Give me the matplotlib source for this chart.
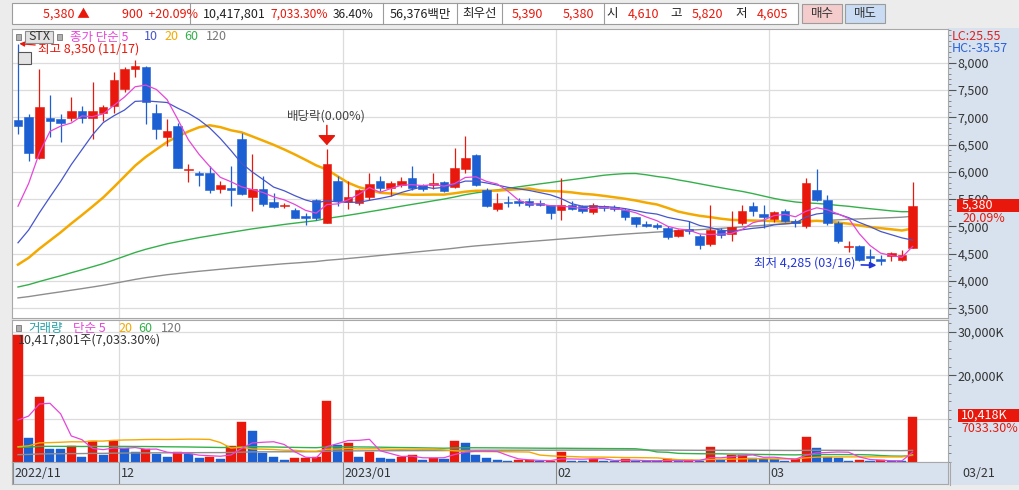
import matplotlib

matplotlib.use("Agg")
import matplotlib.pyplot as plt
import numpy as np
import pandas as pd
from matplotlib.lines import Line2D
from matplotlib.patches import Rectangle
from matplotlib.ticker import MultipleLocator

plt.rcParams["font.family"] = ["Noto Sans CJK KR", "DejaVu Sans"]

# ---- data (prices in KRW, volume in thousand shares) ----
holidays = ["2022-12-30", "2023-01-23", "2023-01-24", "2023-03-01"]
dates = pd.bdate_range("2022-11-17", "2023-03-21", freq="C", holidays=holidays)

opens = [6940, 7000, 6260, 6980, 6970, 6990, 7115, 6990, 7085, 7200,
         7510, 7880, 7920, 7070, 6640, 6830, 6030, 5985, 5980, 5690,
         5705, 6595, 5535, 5690, 5440, 5370, 5305, 5195, 5480, 5065,
         5835, 5440, 5430, 5535, 5835, 5705, 5750, 5890, 5750, 5750,
         5810, 5720, 6045, 6300, 5660, 5320, 5440, 5460, 5470, 5420,
         5395, 5295, 5400, 5380, 5270, 5380, 5360, 5295, 5165, 5045,
         5030, 4970, 4825, 4950, 4820, 4680, 4940, 4865, 5065, 5370,
         5225, 5140, 5275, 5095, 5015, 5665, 5490, 5065, 4625, 4645,
         4450, 4400, 4450, 4380, 4610]
highs = [8350, 7050, 7880, 7410, 7050, 7370, 7200, 7640, 7230, 7820,
         7920, 8050, 7930, 7240, 6960, 6900, 6135, 6010, 6100, 5830,
         6100, 6720, 6330, 5920, 5615, 5430, 5340, 5250, 5510, 6410,
         5920, 5840, 5680, 5980, 5920, 5830, 5900, 6100, 5780, 5980,
         5830, 6440, 6655, 6320, 5705, 5615, 5560, 5520, 5520, 5480,
         5400, 5890, 5470, 5400, 5430, 5400, 5390, 5340, 5180, 5090,
         5060, 5000, 4960, 5105, 4865, 5385, 4965, 5290, 5400, 5440,
         5400, 5290, 5320, 5130, 5890, 6050, 5580, 5090, 4725, 4660,
         4585, 4480, 4540, 4560, 5820]
lows = [6690, 6190, 6230, 6640, 6540, 6930, 6900, 6610, 6930, 7070,
        7470, 7730, 6870, 6600, 6470, 6075, 5815, 5735, 5615, 5615,
        5370, 5580, 5275, 5370, 5340, 5340, 5150, 5030, 5120, 5060,
        5370, 5310, 5400, 5490, 5650, 5550, 5730, 5675, 5650, 5690,
        5630, 5705, 5980, 5740, 5355, 5275, 5360, 5370, 5360, 5380,
        5140, 5125, 5300, 5250, 5230, 5280, 5280, 5120, 4980, 4980,
        4960, 4770, 4810, 4865, 4590, 4635, 4790, 4735, 5030, 5190,
        4970, 5080, 5080, 4990, 4970, 5460, 5030, 4700, 4540, 4370,
        4330, 4285, 4360, 4360, 4605]
closes = [6830, 6340, 7180, 6930, 6900, 7115, 6990, 7120, 7180, 7680,
          7880, 7930, 7270, 6780, 6750, 6075, 6055, 5940, 5675, 5750,
          5670, 5585, 5690, 5410, 5350, 5400, 5155, 5155, 5155, 6135,
          5460, 5530, 5660, 5770, 5705, 5800, 5840, 5705, 5690, 5800,
          5655, 6075, 6260, 5750, 5380, 5420, 5420, 5430, 5400, 5400,
          5240, 5400, 5320, 5280, 5400, 5330, 5315, 5170, 5035, 5010,
          4990, 4805, 4930, 4920, 4665, 4940, 4840, 4990, 5290, 5275,
          5180, 5255, 5105, 5065, 5790, 5490, 5065, 4735, 4645, 4390,
          4420, 4360, 4520, 4480, 5380]
volumes = [29300, 5500, 15000, 3000, 2900, 3700, 1200, 4900, 1600, 4800,
           3200, 2200, 2900, 1850, 1200, 2200, 1800, 850, 1200, 600,
           3700, 9300, 7200, 2000, 1200, 500, 850, 1000, 1200, 14200,
           3900, 4500, 1200, 2400, 1000, 600, 1200, 1600, 500, 850,
           800, 4900, 4300, 1600, 850, 500, 300, 350, 500, 200,
           300, 2200, 300, 250, 700, 300, 200, 600, 300, 200,
           180, 600, 300, 350, 300, 3400, 500, 1600, 1650, 1000,
           700, 600, 300, 600, 5700, 3300, 1100, 850, 300, 350,
           300, 350, 200, 148, 10418]

# sessions before the window (needed for the short moving averages)
prior_close = [3850, 3880, 3920, 3900, 3870, 3910, 3940, 3900, 3880, 3950,
               4000, 4050, 4020, 4060, 4020, 4255, 4400, 4940, 6425]
prior_volume = [1400, 1500, 1600, 1300, 1450, 1550, 1400, 1500, 1350, 1600,
                1450, 1500, 1400, 1550, 1550, 900, 1100, 2200, 15000]

# long moving averages
ma60 = [3890, 3933, 3990, 4043, 4095, 4151, 4205, 4261, 4318, 4384,
        4453, 4522, 4581, 4631, 4681, 4720, 4758, 4795, 4827, 4860,
        4892, 4923, 4955, 4982, 5009, 5036, 5060, 5083, 5106, 5146,
        5174, 5204, 5235, 5269, 5301, 5335, 5370, 5403, 5435, 5469,
        5501, 5539, 5581, 5614, 5641, 5669, 5697, 5725, 5752, 5779,
        5804, 5831, 5857, 5883, 5910, 5937, 5954, 5967, 5969, 5945,
        5914, 5889, 5851, 5818, 5781, 5744, 5708, 5673, 5641, 5601,
        5556, 5512, 5476, 5447, 5431, 5421, 5405, 5385, 5368, 5345,
        5324, 5304, 5284, 5269, 5270]
ma120 = [3690, 3714, 3744, 3773, 3801, 3831, 3860, 3890, 3921, 3956,
         3992, 4029, 4061, 4088, 4115, 4136, 4158, 4178, 4196, 4215,
         4233, 4250, 4268, 4284, 4300, 4316, 4329, 4343, 4357, 4379,
         4395, 4412, 4430, 4449, 4468, 4487, 4506, 4524, 4543, 4562,
         4580, 4601, 4624, 4643, 4659, 4675, 4691, 4707, 4723, 4738,
         4753, 4769, 4784, 4799, 4815, 4830, 4845, 4859, 4872, 4884,
         4897, 4908, 4920, 4932, 4941, 4953, 4964, 4977, 4992, 5006,
         5020, 5035, 5048, 5061, 5080, 5097, 5110, 5120, 5130, 5137,
         5145, 5152, 5160, 5169, 5184]
vma60 = [3390, 3426, 3621, 3616, 3609, 3615, 3580, 3606, 3577, 3602,
         3600, 3581, 3574, 3549, 3514, 3495, 3470, 3429, 3394, 3349,
         3355, 3455, 3520, 3498, 3463, 3416, 3375, 3336, 3301, 3482,
         3492, 3512, 3477, 3462, 3423, 3378, 3343, 3314, 3267, 3226,
         3184, 3241, 3288, 3290, 3280, 3264, 3244, 3225, 3209, 3188,
         3168, 3180, 3160, 3140, 3127, 3107, 3095, 3087, 3055, 2808,
         2323, 2241, 1996, 1952, 1909, 1904, 1892, 1837, 1838, 1775,
         1733, 1706, 1663, 1642, 1717, 1735, 1723, 1723, 1708, 1704,
         1647, 1498, 1381, 1350, 1504]
vma120 = [1700, 1744, 1867, 1890, 1913, 1942, 1950, 1989, 2001, 2039,
          2064, 2081, 2104, 2118, 2126, 2143, 2156, 2161, 2169, 2172,
          2201, 2277, 2335, 2350, 2358, 2361, 2366, 2373, 2381, 2498,
          2529, 2565, 2573, 2591, 2598, 2601, 2609, 2621, 2624, 2629,
          2634, 2673, 2707, 2719, 2724, 2727, 2728, 2729, 2732, 2732,
          2733, 2750, 2751, 2751, 2755, 2756, 2756, 2759, 2760, 2760,
          2747, 2738, 2726, 2715, 2703, 2717, 2707, 2706, 2706, 2700,
          2692, 2683, 2671, 2662, 2695, 2708, 2703, 2696, 2684, 2673,
          2661, 2650, 2637, 2624, 2697]

price_ticks = [3500, 4000, 4500, 5000, 5500, 6000, 6500, 7000, 7500, 8000]
vol_ticks = [10000, 20000, 30000]
dividend_idx = 29

RED = "#e8180c"
BLUE = "#1c5fd2"
C_MA5 = "#e646d8"
C_MA10 = "#4656cc"
C_MA20 = "#f4a900"
C_MA60 = "#34b04a"
C_MA120 = "#8e8e8e"
PANEL = "#d8e2ee"
GRID = "#dcdcdc"

W, H = 1019, 490


def box(x0, y0, x1, y1):
    return [x0 / W, 1 - y1 / H, (x1 - x0) / W, (y1 - y0) / H]


def ftext(x, y, s, color="#333333", size=9, **kw):
    kw.setdefault("ha", "left")
    return fig.text(x / W, 1 - y / H, s, color=color, fontsize=size, va="center",
                    zorder=10, **kw)


def frect(x0, y0, x1, y1, fc, ec="none", z=2, lw=0.8):
    fig.add_artist(Rectangle((x0 / W, 1 - y1 / H), (x1 - x0) / W, (y1 - y0) / H,
                             transform=fig.transFigure, facecolor=fc, edgecolor=ec,
                             linewidth=lw, zorder=z))


def fvline(x, y0, y1, color="#9c9c9c", lw=0.8):
    fig.add_artist(Line2D([x / W, x / W], [1 - y0 / H, 1 - y1 / H],
                          transform=fig.transFigure, color=color, lw=lw))


n = len(closes)
x = np.arange(n)
o = np.array(opens, float)
c = np.array(closes, float)
hi = np.array(highs, float)
lo = np.array(lows, float)
v = np.array(volumes, float)

cs = pd.Series(prior_close + closes, dtype=float)
vs = pd.Series(prior_volume + volumes, dtype=float)
k = len(prior_close)
ma5 = cs.rolling(5).mean().to_numpy()[k:]
ma10 = cs.rolling(10).mean().to_numpy()[k:]
ma20 = cs.rolling(20).mean().to_numpy()[k:]
vma5 = vs.rolling(5).mean().to_numpy()[k:]
vma20 = vs.rolling(20).mean().to_numpy()[k:]

candle_col = [RED if cc >= oo else BLUE for oo, cc in zip(o, c)]
prev_v = np.concatenate([[prior_volume[-1]], v[:-1]])
vol_col = [RED if a > b else BLUE for a, b in zip(v, prev_v)]

# month boundaries
bounds = [-0.5] + [i - 0.5 for i in range(1, n) if dates[i].month != dates[i - 1].month]
blabels = []
for b in bounds:
    d = dates[int(b + 0.5)]
    blabels.append(f"{d.year}/{d.month:02d}" if (b < 0 or d.month == 1) else f"{d.month:02d}")

fig = plt.figure(figsize=(W / 100, H / 100), dpi=100, facecolor="#ececec")

# right-hand scale panel and date strip background
frect(948, 28, 1019, 485, PANEL, z=-1)

xmin, xmax = (12 - 18) / 10.65, (948 - 18) / 10.65

# ---- price panel ----
ax = fig.add_axes(box(12, 29, 948, 318))
ax.set_xlim(xmin, xmax)
ax.set_ylim(3322, 8616)
for t in price_ticks:
    ax.axhline(t, color=GRID, lw=0.9, zorder=0)
for b in bounds[1:]:
    ax.axvline(b, color=GRID, lw=0.9, zorder=0)

ax.vlines(x, lo, hi, colors=candle_col, lw=0.9, zorder=3)
body = np.maximum(np.abs(c - o), 18)
ax.bar(x, body, bottom=np.minimum(o, c), width=0.8, color=candle_col,
       edgecolor=candle_col, lw=0.4, zorder=4)

ax.plot(x, ma120, color=C_MA120, lw=1.0, zorder=2)
ax.plot(x, ma60, color=C_MA60, lw=1.0, zorder=2)
ax.plot(x, ma20, color=C_MA20, lw=1.8, zorder=2)
ax.plot(x, ma10, color=C_MA10, lw=0.9, zorder=5)
ax.plot(x, ma5, color=C_MA5, lw=0.9, zorder=5)

ax.yaxis.tick_right()
ax.set_yticks(price_ticks)
ax.set_yticklabels([f"{t:,}" for t in price_ticks])
ax.yaxis.set_minor_locator(MultipleLocator(100))
ax.tick_params(axis="y", which="major", direction="out", length=6, pad=1,
               labelsize=9, colors="#555555", labelcolor="#333333")
ax.tick_params(axis="y", which="minor", direction="out", length=2, colors="#777777")
ax.tick_params(axis="x", bottom=False, labelbottom=False)
for s in ax.spines.values():
    s.set_color("#a8a8a8")

# annotations
hi_i = int(np.argmax(hi))
ax.annotate("최고 8,350 (11/17)", xy=(hi_i, hi[hi_i]), xytext=(20, -6),
            textcoords="offset pixels", ha="left", va="center", color=RED, fontsize=9,
            arrowprops=dict(arrowstyle="-|>", color=RED, lw=0.9, shrinkA=0, shrinkB=1,
                            mutation_scale=7), zorder=8)
lo_i = int(np.argmin(lo))
ax.annotate("최저 4,285 (03/16)", xy=(lo_i, lo[lo_i]), xytext=(-25, 2),
            textcoords="offset pixels", ha="right", va="center", color="#2236d8", fontsize=9,
            arrowprops=dict(arrowstyle="-|>", color="#2236d8", lw=1.2, shrinkA=2, shrinkB=3,
                            mutation_scale=9), zorder=8)
ax.annotate("배당락(0.00%)", xy=(dividend_idx, hi[dividend_idx]), xytext=(0, 33),
            textcoords="offset pixels", ha="center", va="center", color="#444444", fontsize=9)
ax.annotate("", xy=(dividend_idx, hi[dividend_idx]), xytext=(0, 24),
            textcoords="offset pixels",
            arrowprops=dict(arrowstyle="-|>,head_width=0.45,head_length=0.5", color=RED,
                            lw=1.1, shrinkA=0, shrinkB=3, mutation_scale=12), zorder=8)

# ---- volume panel ----
axv = fig.add_axes(box(12, 320, 948, 462), sharex=ax)
axv.set_ylim(0, 32800)
for t in vol_ticks:
    axv.axhline(t, color=GRID, lw=0.9, zorder=0)
for b in bounds[1:]:
    axv.axvline(b, color=GRID, lw=0.9, zorder=0)
axv.bar(x, v, width=0.85, color=vol_col, edgecolor=vol_col, lw=0.3, zorder=3)
axv.plot(x, vma120, color=C_MA120, lw=1.0, zorder=4)
axv.plot(x, vma60, color=C_MA60, lw=1.0, zorder=4)
axv.plot(x, vma20, color=C_MA20, lw=1.0, zorder=4)
axv.plot(x, vma5, color=C_MA5, lw=0.9, zorder=4)
axv.yaxis.tick_right()
axv.set_yticks([20000, 30000])
axv.set_yticklabels(["20,000K", "30,000K"])
axv.yaxis.set_minor_locator(MultipleLocator(2000))
axv.tick_params(axis="y", which="major", direction="out", length=6, pad=1,
                labelsize=9, colors="#555555", labelcolor="#333333")
axv.tick_params(axis="y", which="minor", direction="out", length=2, colors="#777777")
axv.tick_params(axis="x", bottom=False, labelbottom=False)
for s in axv.spines.values():
    s.set_color("#a8a8a8")

# ---- date strip ----
axd = fig.add_axes(box(12, 462, 948, 484), sharex=ax, facecolor=PANEL)
axd.set_ylim(0, 1)
axd.set_yticks([])
axd.tick_params(axis="x", bottom=False, labelbottom=False)
for s in axd.spines.values():
    s.set_color("#a8a8a8")
for b, lab in zip(bounds, blabels):
    axd.axvline(b, color="#8a8a8a", lw=0.8)
    axd.annotate(lab, xy=(b, 0.5), xytext=(2, 0), textcoords="offset pixels",
                 ha="left", va="center", fontsize=9, color="#333333")
fvline(950, 462, 485, "#a8a8a8")
ftext(962, 473, dates[-1].strftime("%m/%d"))

# ---- top info bar ----
frect(12, 3, 798, 24, "white", "#9c9c9c")
for sx in (190, 383, 457, 502, 604):
    fvline(sx, 3, 24)
ty = 14
ftext(43, ty, "5,380 ▲", RED)
ftext(122, ty, "900  +20.09%", RED)
ftext(203, ty, "10,417,801", "#222222")
ftext(270, ty, "7,033.30%", RED, size=8.6)
ftext(333, ty, "36.40%", "#222222", size=8.6)
ftext(390, ty, "56,376백만", "#222222")
ftext(462, ty, "최우선", "#222222")
ftext(512, ty, "5,390", RED)
ftext(563, ty, "5,380", RED)
ftext(606, ty, "시", "#222222")
ftext(628, ty, "4,610", RED)
ftext(670, ty, "고", "#222222")
ftext(692, ty, "5,820", RED)
ftext(735, ty, "저", "#222222")
ftext(757, ty, "4,605", RED)
frect(802, 4, 842, 23, "#f4cccc", "#9c9c9c")
ftext(822, ty, "매수", "#333333", ha="center")
frect(845, 4, 885, 23, "#c9dcf3", "#9c9c9c")
ftext(865, ty, "매도", "#333333", ha="center")

# ---- price legend ----
ly = 37
frect(16, 34, 21, 40, "#b0b0b0", "#777777", z=5, lw=0.6)
frect(25, 31, 53, 43, "#e2e2e2", "#8c8c8c", z=5)
ftext(39, ly, "STX", "#333333", ha="center")
frect(57, 34, 62, 40, "#b0b0b0", "#777777", z=5, lw=0.6)
ftext(70, ly, "종가 단순 5", C_MA5)
ftext(144, ly, "10", C_MA10)
ftext(164, ly, "20", C_MA20)
ftext(184, ly, "60", C_MA60)
ftext(206, ly, "120", "#777777")
frect(18, 52, 31, 64, "#e4e4e4", "#555555", z=5, lw=0.8)

ftext(952, 37, "LC:25.55", "#e02020")
ftext(952, 49, "HC:-35.57", "#2a62d8")
frect(957, 199, 1019, 212, RED, z=5)
ftext(962, 205.5, f"{closes[-1]:,}", "white")
ftext(962, 218, "20.09%", RED)

# ---- volume legend ----
vy = 328
frect(16, 325, 21, 331, "#b0b0b0", "#777777", z=5, lw=0.6)
ftext(28, vy, "거래량", "#27a0a8")
ftext(73, vy, "단순 5", C_MA5)
ftext(118, vy, "20", C_MA20)
ftext(138, vy, "60", C_MA60)
ftext(161, vy, "120", "#777777")
ftext(18, 340, "10,417,801주(7,033.30%)", "#333333")
frect(958, 409, 1019, 422, RED, z=5)
ftext(961, 415.5, f"{volumes[-1]:,}K", "white")
ftext(961, 428, "7033.30%", RED)

fig.savefig("out.png", dpi=100, facecolor=fig.get_facecolor())
